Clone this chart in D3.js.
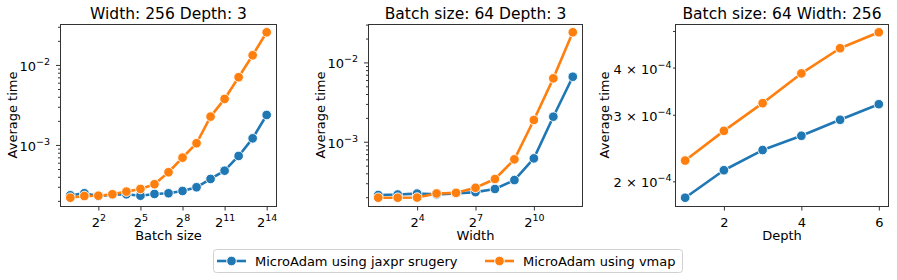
<!DOCTYPE html>
<html>
<head>
<meta charset="utf-8">
<script src="https://cdn.jsdelivr.net/npm/d3@7"></script>
<style>
  body { margin: 0; background: #fff; }
  svg { font-family: "DejaVu Sans", sans-serif; }
</style>
</head>
<body>
<svg id="chart" width="897" height="280"></svg>
<script>
// ---- data ----
const seriesNames = ['MicroAdam using jaxpr srugery', 'MicroAdam using vmap'];

const batchSizes = [1, 2, 4, 8, 16, 32, 64, 128, 256, 512, 1024, 2048, 4096, 8192, 16384];
const batchJaxpr = [2.35e-4, 2.49e-4, 2.30e-4, 2.39e-4, 2.42e-4, 2.32e-4, 2.44e-4, 2.49e-4, 2.66e-4, 2.96e-4, 3.76e-4, 4.77e-4, 7.29e-4, 1.21e-3, 2.37e-3];
const batchVmap  = [2.19e-4, 2.30e-4, 2.32e-4, 2.42e-4, 2.61e-4, 2.82e-4, 3.23e-4, 4.56e-4, 6.94e-4, 1.05e-3, 2.26e-3, 3.76e-3, 7.02e-3, 1.32e-2, 2.56e-2];

const widths = [4, 8, 16, 32, 64, 128, 256, 512, 1024, 2048, 4096];
const widthJaxpr = [2.13e-4, 2.16e-4, 2.22e-4, 2.17e-4, 2.23e-4, 2.32e-4, 2.54e-4, 3.29e-4, 6.17e-4, 2.07e-3, 6.6e-3];
const widthVmap  = [1.97e-4, 1.97e-4, 1.98e-4, 2.23e-4, 2.27e-4, 2.63e-4, 3.39e-4, 6.0e-4, 1.88e-3, 6.3e-3, 2.4e-2];

const depths = [1, 2, 3, 4, 5, 6];
const depthJaxpr = [1.81e-4, 2.14e-4, 2.42e-4, 2.64e-4, 2.91e-4, 3.20e-4];
const depthVmap  = [2.27e-4, 2.72e-4, 3.22e-4, 3.86e-4, 4.50e-4, 4.96e-4];

const batchTicks = [4, 32, 256, 2048, 16384];
const widthTicks = [16, 128, 1024];
const depthTicks = [2, 4, 6];
const decadeTicks = [1e-3, 1e-2];
const depthYTicks = [2e-4, 3e-4, 4e-4];

// ---- layout ----
const colors = ['#1f77b4', '#ff7f0e'];
const plotTop = 24, plotBottom = 206;
const fs = 13;

const svg = d3.select('#chart');

const panels = [
  { title: 'Width: 256 Depth: 3', xlabel: 'Batch size', x: batchSizes, ys: [batchJaxpr, batchVmap],
    left: 60.5, right: 276.5, xlog: true, xTicks: batchTicks, ylabelX: 17 },
  { title: 'Batch size: 64 Depth: 3', xlabel: 'Width', x: widths, ys: [widthJaxpr, widthVmap],
    left: 368.5, right: 582.5, xlog: true, xTicks: widthTicks, ylabelX: 325 },
  { title: 'Batch size: 64 Width: 256', xlabel: 'Depth', x: depths, ys: [depthJaxpr, depthVmap],
    left: 675.5, right: 888.5, xlog: false, xTicks: depthTicks, ylabelX: 609 }
];

const sup = (sel, base, exp) => {
  sel.text(null);
  sel.append('tspan').text(base);
  sel.append('tspan').attr('dy', -6).attr('font-size', 9.5).text(exp);
};

const minus = (n) => (n < 0 ? '\u2212' + (-n) : '' + n);

panels.forEach((p) => {
  // x scale with matplotlib-like 5% margins
  let x;
  if (p.xlog) {
    const lo = Math.log2(d3.min(p.x)), hi = Math.log2(d3.max(p.x));
    const m = (hi - lo) * 0.05;
    x = d3.scaleLog().base(2).domain([2 ** (lo - m), 2 ** (hi + m)]).range([p.left, p.right]);
  } else {
    const lo = d3.min(p.x), hi = d3.max(p.x);
    const m = (hi - lo) * 0.05;
    x = d3.scaleLinear().domain([lo - m, hi + m]).range([p.left, p.right]);
  }
  const all = p.ys.flat();
  const ylo = Math.log10(d3.min(all)), yhi = Math.log10(d3.max(all));
  const ym = (yhi - ylo) * 0.05;
  const y = d3.scaleLog().domain([10 ** (ylo - ym), 10 ** (yhi + ym)]).range([plotBottom, plotTop]);

  const g = svg.append('g');

  // x axis
  const xa = g.append('g')
    .attr('transform', `translate(0,${plotBottom})`)
    .call(d3.axisBottom(x).tickValues(p.xTicks).tickSize(4.5).tickSizeOuter(0));
  xa.select('.domain').remove();
  xa.selectAll('line').attr('stroke', '#333');
  xa.selectAll('text').attr('font-size', fs).attr('fill', '#000').attr('font-family', 'DejaVu Sans')
    .attr('dy', null).attr('y', 20.5)
    .each(function (d) {
      if (p.xlog) sup(d3.select(this), '2', Math.round(Math.log2(d)));
      else d3.select(this).text(d);
    });

  // y ticks
  const [d0, d1] = y.domain();
  const minor = [];
  for (let k = Math.floor(Math.log10(d0)); k <= Math.ceil(Math.log10(d1)); k++) {
    for (let m = 2; m <= 9; m++) {
      const v = m * 10 ** k;
      if (v >= d0 && v <= d1) minor.push(v);
    }
  }
  const major = p.xlog ? decadeTicks.filter((v) => v >= d0 && v <= d1) : depthYTicks;

  const ya = g.append('g')
    .attr('transform', `translate(${p.left},0)`)
    .call(d3.axisLeft(y).tickValues(minor).tickSize(2.5).tickFormat('').tickSizeOuter(0));
  ya.select('.domain').remove();
  ya.selectAll('line').attr('stroke', '#333');

  const yb = g.append('g')
    .attr('transform', `translate(${p.left},0)`)
    .call(d3.axisLeft(y).tickValues(major).tickSize(p.xlog ? 4.5 : 0).tickPadding(p.xlog ? 6 : 4).tickSizeOuter(0));
  yb.select('.domain').remove();
  yb.selectAll('line').attr('stroke', '#333');
  yb.selectAll('text').attr('font-size', fs).attr('fill', '#000').attr('font-family', 'DejaVu Sans')
    .attr('dy', 5.5)
    .each(function (d) {
      const e = Math.floor(Math.log10(d) + 1e-9);
      if (p.xlog) sup(d3.select(this), '10', minus(e));
      else sup(d3.select(this), `${Math.round(d / 10 ** e)} \u00d7 10`, minus(e));
    });

  // frame
  g.append('rect')
    .attr('x', p.left).attr('y', plotTop + 0.5)
    .attr('width', p.right - p.left).attr('height', plotBottom - plotTop)
    .attr('fill', 'none').attr('stroke', '#333').attr('stroke-width', 1);

  // series
  p.ys.forEach((vals, si) => {
    const pts = p.x.map((xv, i) => [xv, vals[i]]);
    g.append('path')
      .datum(pts)
      .attr('fill', 'none')
      .attr('stroke', colors[si])
      .attr('stroke-width', 2.6)
      .attr('stroke-linejoin', 'round')
      .attr('d', d3.line().x((d) => x(d[0])).y((d) => y(d[1])));
    g.selectAll(null)
      .data(pts)
      .enter()
      .append('circle')
      .attr('cx', (d) => x(d[0]))
      .attr('cy', (d) => y(d[1]))
      .attr('r', 4.8)
      .attr('fill', colors[si])
      .attr('stroke', '#fff')
      .attr('stroke-width', 0.9);
  });

  // texts
  g.append('text')
    .attr('x', (p.left + p.right) / 2).attr('y', 18.5)
    .attr('text-anchor', 'middle').attr('font-size', 15.5)
    .text(p.title);
  g.append('text')
    .attr('x', (p.left + p.right) / 2).attr('y', 240)
    .attr('text-anchor', 'middle').attr('font-size', fs)
    .text(p.xlabel);
  g.append('text')
    .attr('transform', `translate(${p.ylabelX},${(plotTop + plotBottom) / 2}) rotate(-90)`)
    .attr('text-anchor', 'middle').attr('font-size', fs)
    .text('Average time');
});

// legend
const legend = svg.append('g');
legend.append('rect')
  .attr('x', 213.5).attr('y', 249.5).attr('width', 469).attr('height', 23).attr('rx', 3)
  .attr('fill', '#fff').attr('stroke', '#d0d0d0').attr('stroke-width', 1);
const legendX = [217, 485];
seriesNames.forEach((name, i) => {
  const lx = legendX[i];
  legend.append('line')
    .attr('x1', lx).attr('x2', lx + 29).attr('y1', 261).attr('y2', 261)
    .attr('stroke', colors[i]).attr('stroke-width', 2.6);
  legend.append('circle')
    .attr('cx', lx + 14.5).attr('cy', 261).attr('r', 4.8)
    .attr('fill', colors[i]).attr('stroke', '#fff').attr('stroke-width', 0.9);
  legend.append('text')
    .attr('x', lx + 38).attr('y', 265.5).attr('font-size', fs)
    .text(name);
});
</script>
</body>
</html>
